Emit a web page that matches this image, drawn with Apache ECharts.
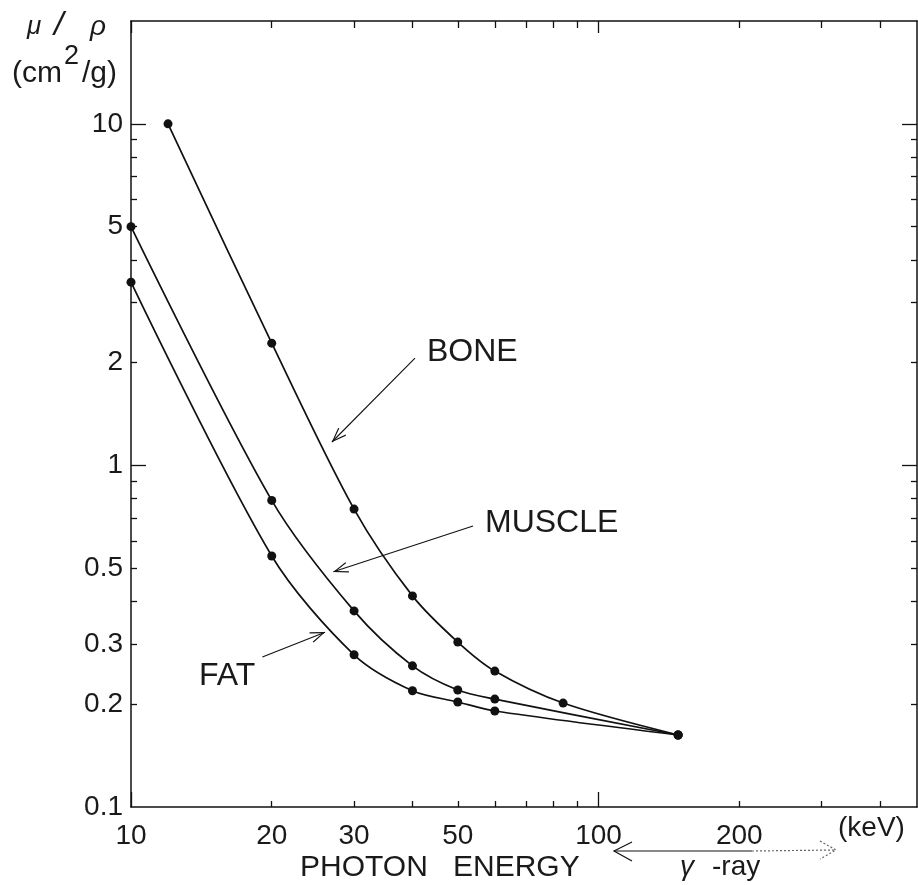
<!DOCTYPE html>
<html>
<head>
<meta charset="utf-8">
<script src="https://cdn.jsdelivr.net/npm/echarts@6/dist/echarts.min.js"></script>
<style>
html,body{margin:0;padding:0;background:#fff;}
#main{width:918px;height:885px;}
</style>
</head>
<body>
<div id="main"></div>
<script>
// 数据 (keV, cm2/g)
var boneX = [12, 20, 30, 40, 50, 60, 84, 148];
var boneY = [10, 2.28, 0.745, 0.415, 0.304, 0.250, 0.2015, 0.1625];
var muscleX = [10, 20, 30, 40, 50, 60, 148];
var muscleY = [5, 0.79, 0.375, 0.259, 0.220, 0.207, 0.1625];
var fatX = [10, 20, 30, 40, 50, 60, 148];
var fatY = [3.44, 0.543, 0.279, 0.219, 0.203, 0.191, 0.1625];

// 刻度
var xLabels = [10, 20, 30, 50, 100, 200];
var xMinor = [20, 30, 40, 50, 60, 70, 80, 90, 200, 300, 400];
var xMajor = [10, 100];
var yLabels = [0.1, 0.2, 0.3, 0.5, 1, 2, 5, 10];
var yMinor = [0.2, 0.3, 0.4, 0.5, 0.6, 0.7, 0.8, 0.9, 2, 3, 4, 5, 6, 7, 8, 9];
var yMajor = [1, 10];

// 箭头 [起点, 终点]
var boneArrow = [[40.5, 2.06], [26.9, 1.171]];
var muscleArrow = [[53.9, 0.665], [27.1, 0.488]];
var fatArrow = [[19.1, 0.275], [26.0, 0.325]];

var ink = '#111';
var font = 'Liberation Sans';
var arrowHead = 'path://M5,-14L5,-14M5,0L10,14L9,14.6L5,3L1,14.6L0,14Z';

function zip(xs, ys) {
    return xs.map(function (x, i) { return [x, ys[i]]; });
}
function fmt(v) { return String(+(+v).toPrecision(3)); }

function xAx(pos, ticks, len, labels, line) {
    return {
        type: 'log', logBase: 10, min: 10, max: 480, position: pos,
        axisLine: {show: line, lineStyle: {color: ink, width: 1.5}},
        axisTick: {show: true, inside: true, length: len, customValues: ticks, lineStyle: {color: ink, width: 1.3}},
        axisLabel: labels ? {show: true, customValues: labels, formatter: fmt, margin: 15,
            fontSize: 28, fontFamily: font, color: '#1a1a1a'} : {show: false},
        splitLine: {show: false}, minorTick: {show: false}
    };
}
function yAx(pos, ticks, len, labels, line) {
    return {
        type: 'log', logBase: 10, min: 0.1, max: 20, position: pos,
        axisLine: {show: line, lineStyle: {color: ink, width: 1.5}},
        axisTick: {show: true, inside: true, length: len, customValues: ticks, lineStyle: {color: ink, width: 1.3}},
        axisLabel: labels ? {show: true, customValues: labels, formatter: fmt, margin: 8,
            fontSize: 28, fontFamily: font, color: '#1a1a1a'} : {show: false},
        splitLine: {show: false}, minorTick: {show: false}
    };
}

function curve(name, xs, ys, arrow) {
    return {
        name: name, type: 'line', xAxisIndex: 0, yAxisIndex: 0,
        data: zip(xs, ys), smooth: 0.3,
        symbol: 'circle', symbolSize: 9, showAllSymbol: true,
        itemStyle: {color: ink},
        lineStyle: {color: ink, width: 1.7},
        markLine: {
            silent: true, animation: false,
            symbol: ['none', arrowHead], symbolSize: [11, 30],
            label: {show: false},
            lineStyle: {color: ink, width: 1.1, type: 'solid'},
            data: [[{coord: arrow[0]}, {coord: arrow[1]}]]
        }
    };
}

function txt(x, y, s, size, extra) {
    var style = {text: s, x: x, y: y, fill: '#1a1a1a', font: (extra || '') + ' ' + size + 'px "' + font + '"',
        textVerticalAlign: 'middle'};
    return {type: 'text', style: style, z: 10};
}

var myChart = echarts.init(document.getElementById('main'));
var option = {
    backgroundColor: '#fff',
    animation: false,
    grid: {left: 131, right: 1, top: 21, bottom: 78, containLabel: false},
    xAxis: [
        xAx('bottom', xMinor, 6, xLabels, true),
        xAx('bottom', xMajor, 15, null, false),
        xAx('top', xMinor, 7, null, true),
        xAx('top', xMajor, 12, null, false)
    ],
    yAxis: [
        yAx('left', yMinor, 6, yLabels, true),
        yAx('left', yMajor, 15, null, false),
        yAx('right', yMinor, 6, null, true),
        yAx('right', yMajor, 15, null, false)
    ],
    series: [
        curve('BONE', boneX, boneY, boneArrow),
        curve('MUSCLE', muscleX, muscleY, muscleArrow),
        curve('FAT', fatX, fatY, fatArrow)
    ],
    graphic: [
        txt(27, 27, 'μ', 26, 'italic'),
        txt(54, 26, '/', 34, 'italic'),
        txt(90, 27, 'ρ', 28, 'italic'),
        txt(12, 74, '(cm', 30),
        txt(64, 57, '2', 27),
        txt(82, 74, '/g)', 30),
        txt(427, 352, 'BONE', 32),
        txt(485, 523, 'MUSCLE', 32),
        txt(199, 676, 'FAT', 32),
        txt(838, 828, '(keV)', 28),
        txt(300, 868, 'PHOTON', 30),
        txt(453, 868, 'ENERGY', 30),
        txt(680, 867, 'γ', 28, 'italic'),
        txt(712, 867, '-ray', 28),
        {type: 'line', shape: {x1: 614, y1: 851, x2: 752, y2: 851}, style: {stroke: ink, lineWidth: 1.2}},
        {type: 'line', shape: {x1: 752, y1: 851, x2: 836, y2: 850}, style: {stroke: '#666', lineWidth: 1.2, lineDash: [2, 2]}},
        {type: 'polyline', shape: {points: [[632, 842], [614, 851], [632, 861]]}, style: {stroke: ink, lineWidth: 1.2, fill: null}},
        {type: 'polyline', shape: {points: [[820, 841], [836, 850], [820, 859]]}, style: {stroke: '#666', lineWidth: 1.2, lineDash: [2, 2], fill: null}}
    ]
};
myChart.setOption(option);
</script>
</body>
</html>
